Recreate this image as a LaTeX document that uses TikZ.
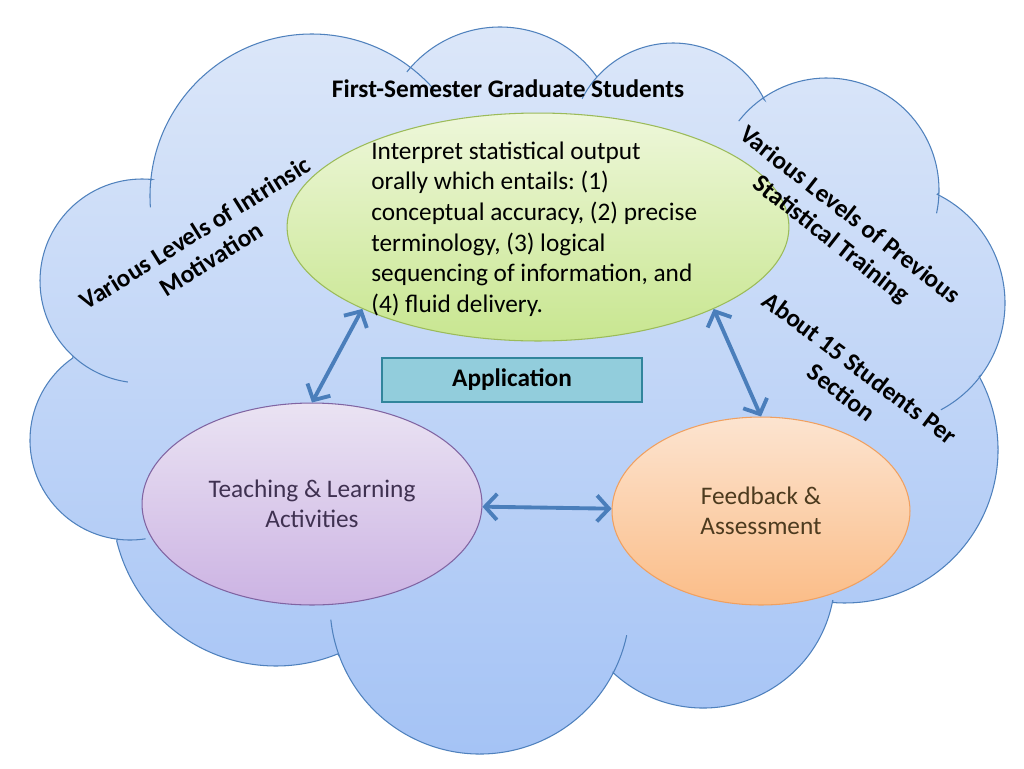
\documentclass[tikz,border=0pt]{standalone}
\usepackage{fontspec}
\setmainfont{Carlito}
\usepackage{xcolor}
\usepackage{tikz}
\usetikzlibrary{shapes.geometric,arrows.meta}
\frenchspacing
\definecolor{cloudtop}{HTML}{DCE7F9}
\definecolor{cloudbot}{HTML}{A3C2F5}
\definecolor{cloudline}{HTML}{4F81BD}
\definecolor{goaltop}{HTML}{EEF7DA}
\definecolor{goalbot}{HTML}{C8E690}
\definecolor{goalline}{HTML}{9BBB59}
\definecolor{teachtop}{HTML}{EAE3F3}
\definecolor{teachbot}{HTML}{CCB3E3}
\definecolor{teachline}{HTML}{8064A2}
\definecolor{teachtext}{HTML}{3F3151}
\definecolor{assesstop}{HTML}{FCE4D0}
\definecolor{assessbot}{HTML}{FBBD88}
\definecolor{assessline}{HTML}{F0A060}
\definecolor{assesstext}{HTML}{4D3B1F}
\definecolor{appfill}{HTML}{92CDDC}
\definecolor{appline}{HTML}{31859C}
\definecolor{linkblue}{HTML}{4A7EBB}
\tikzset{
  cloud/.style={top color=cloudtop, bottom color=cloudbot, draw=cloudline, line width=0.6pt},
  stub/.style={draw=cloudline, line width=0.6pt},
  lab/.style={font=\fontsize{14.4}{17.4}\selectfont\bfseries, align=center},
  body/.style={font=\fontsize{14.4}{17.4}\selectfont},
  goalShape/.style={ellipse, draw=goalline, line width=0.6pt, top color=goaltop, bottom color=goalbot,
    minimum width=10.04cm, minimum height=4.56cm, inner sep=0pt},
  teachShape/.style={ellipse, draw=teachline, line width=0.6pt, top color=teachtop, bottom color=teachbot,
    minimum width=6.8cm, minimum height=4.04cm, inner sep=0pt, body, text=teachtext, align=center},
  assessShape/.style={ellipse, draw=assessline, line width=0.6pt, top color=assesstop, bottom color=assessbot,
    minimum width=5.96cm, minimum height=3.76cm, inner sep=0pt, body, text=assesstext, align=center},
  appBox/.style={rectangle, draw=appline, line width=0.8pt, fill=appfill, minimum width=5.2cm, minimum height=0.88cm, lab},
  link/.style={draw=linkblue, line width=2.2pt, {Straight Barb[length=2.4mm,width=5.2mm]}-{Straight Barb[length=2.4mm,width=5.2mm]}}
}

\begin{document}
\begin{tikzpicture}[x=0.02cm, y=-0.02cm]
\useasboundingbox (0,0) rectangle (1024,768);
\fill[white] (0,0) rectangle (1024,768);

% cloud outline
\path[cloud]
  ([shift={(312,196)}]185.7:162) arc[start angle=185.7, end angle=307.5, radius=162]
  -- ([shift={(500,146)}]218.5:119) arc[start angle=218.5, end angle=324.6, radius=119]
  -- ([shift={(673,145)}]221.8:102) arc[start angle=221.8, end angle=333.7, radius=102]
  -- ([shift={(827,190)}]235:112) arc[start angle=235, end angle=361.5, radius=112]
  -- ([shift={(884,303)}]-63.9:121) arc[start angle=-63.9, end angle=36.3, radius=121]
  -- ([shift={(845,450)}]-28.7:153) arc[start angle=-28.7, end angle=94.6, radius=153]
  -- ([shift={(703,576)}]10.5:132) arc[start angle=10.5, end angle=132.9, radius=132]
  -- ([shift={(480,604)}]27.4:150) arc[start angle=27.4, end angle=159.4, radius=150]
  -- ([shift={(276,502)}]67.9:164) arc[start angle=67.9, end angle=166.2, radius=164]
  -- ([shift={(130,440)}]97.3:100) arc[start angle=97.3, end angle=235.1, radius=100]
  -- ([shift={(142,281)}]132.6:102) arc[start angle=132.6, end angle=275.7, radius=102]
  -- cycle;

% inner bits of the lobes
\draw[stub] ([shift={(312,196)}]307.5:162) arc[start angle=307.5, end angle=320, radius=162];
\draw[stub] ([shift={(312,196)}]176:162) arc[start angle=176, end angle=185.7, radius=162];
\draw[stub] ([shift={(673,145)}]207:102) arc[start angle=207, end angle=221.8, radius=102];
\draw[stub] ([shift={(827,190)}]218:112) arc[start angle=218, end angle=235, radius=112];
\draw[stub] ([shift={(827,190)}]361.5:112) arc[start angle=361.5, end angle=372, radius=112];
\draw[stub] ([shift={(884,303)}]36.3:121) arc[start angle=36.3, end angle=62, radius=121];
\draw[stub] ([shift={(480,604)}]12:150) arc[start angle=12, end angle=27.4, radius=150];
\draw[stub] ([shift={(480,604)}]159.4:150) arc[start angle=159.4, end angle=174, radius=150];
\draw[stub] ([shift={(130,440)}]81:100) arc[start angle=81, end angle=97.3, radius=100];
\draw[stub] ([shift={(142,281)}]98:102) arc[start angle=98, end angle=132.6, radius=102];

% ellipses and box
\node[goalShape] (goal) at (538,227) {};
\node[body, align=left, anchor=west, inner sep=0pt] (goaltext) at (371,229) {Interpret statistical output\\orally which entails: (1)\\conceptual accuracy, (2) precise\\terminology, (3) logical\\sequencing of information, and\\(4) fluid delivery.};
\node[teachShape] (teach) at (312,504) {Teaching \& Learning\\Activities};
\node[assessShape] (assess) at (761,511) {Feedback \&\\Assessment};
\node[appBox] (app) at (512,380) {Application};

% labels round the cloud
\node[lab] (group) at (508,89) {First-Semester Graduate Students};
\node[lab, rotate=32] (motiv) at (203,246) {Various Levels of Intrinsic\\Motivation};
\node[lab, rotate=-38] (train) at (840,228) {Various Levels of Previous\\Statistical Training};
\node[lab, rotate=-37] (size) at (851,380) {About 15 Students Per\\Section};

% arrows
\draw[link] (goal.205) -- (teach.north);
\draw[link] (goal.335) -- (assess.north);
\draw[link] (teach) -- (assess);
\end{tikzpicture}
\end{document}
